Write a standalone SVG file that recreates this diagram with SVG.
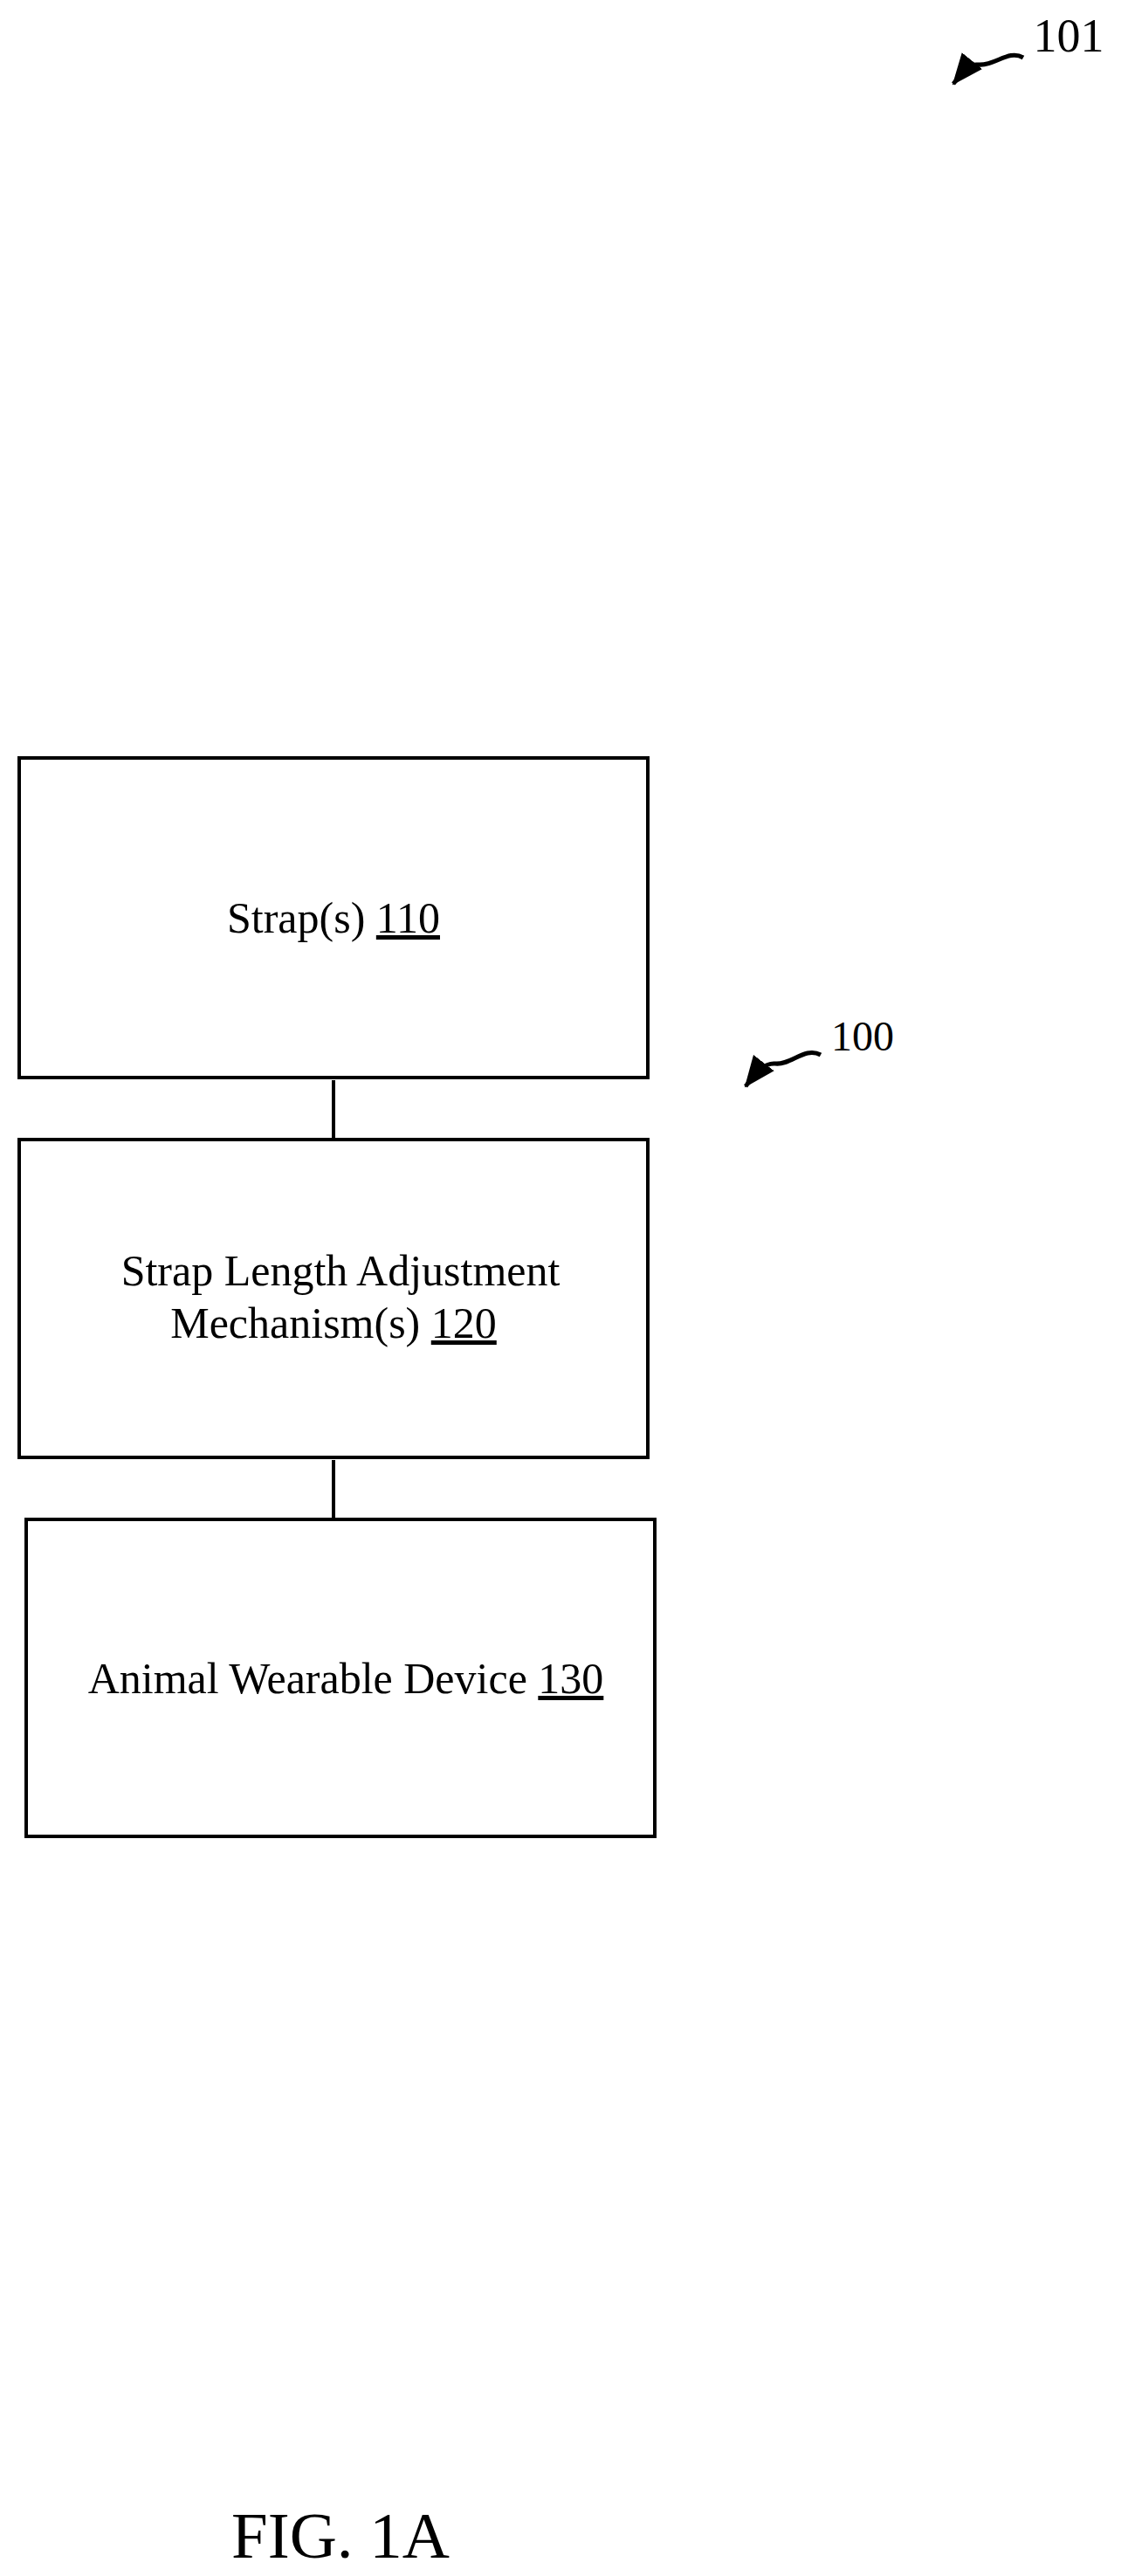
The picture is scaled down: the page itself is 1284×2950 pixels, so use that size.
<svg xmlns="http://www.w3.org/2000/svg" width="1284" height="2950" viewBox="0 0 1284 2950">
<style>
.box{fill:#fff;stroke:#000;stroke-width:4}
.t{font-family:"Liberation Serif",serif;font-size:50px;fill:#000;text-anchor:middle}
.c{stroke:#000;stroke-width:4;fill:none}
.a{stroke:#000;stroke-width:5;fill:none}
</style>
<defs>
<marker id="ah2" markerWidth="36" markerHeight="36" refX="34" refY="18" orient="auto" markerUnits="userSpaceOnUse" viewBox="0 0 36 36"><path d="M0,3 L36,18 L0,33 z" fill="#000"/></marker></defs>
<rect width="1284" height="2950" fill="#fff"/>
<g id="connectors">
<line class="c" x1="382" y1="1237" x2="382" y2="1308"/>
<line class="c" x1="382" y1="1672" x2="382" y2="1743"/>
<path class="a" d="M1172,66 C1155,56 1140,76 1120,74 C1110,73 1105,80 1092,96" marker-end="url(#ah2)"/>
<path class="a" d="M940,1208 C922,1198 906,1220 888,1218 C876,1217 868,1226 854,1244" marker-end="url(#ah2)"/>
</g>
<g id="n110"><rect class="box" x="22" y="868" width="720" height="366"/><text class="t" x="382" y="1068">Strap(s) <tspan text-decoration="underline">110</tspan></text></g>
<g id="n120"><rect class="box" x="22" y="1305" width="720" height="364"/><text class="t" x="390" y="1472">Strap Length Adjustment</text><text class="t" x="382" y="1532">Mechanism(s) <tspan text-decoration="underline">120</tspan></text></g>
<g id="n130"><rect class="box" x="30" y="1740" width="720" height="363"/><text class="t" x="396" y="1939">Animal Wearable Device <tspan text-decoration="underline">130</tspan></text></g>
<g id="l101"><text class="t" x="1224" y="59" style="font-size:54px">101</text></g>
<g id="l100"><text class="t" x="988" y="1203" style="font-size:48px">100</text></g>
<text class="t" x="390" y="2929" style="font-size:75px">FIG. 1A</text>
</svg>
